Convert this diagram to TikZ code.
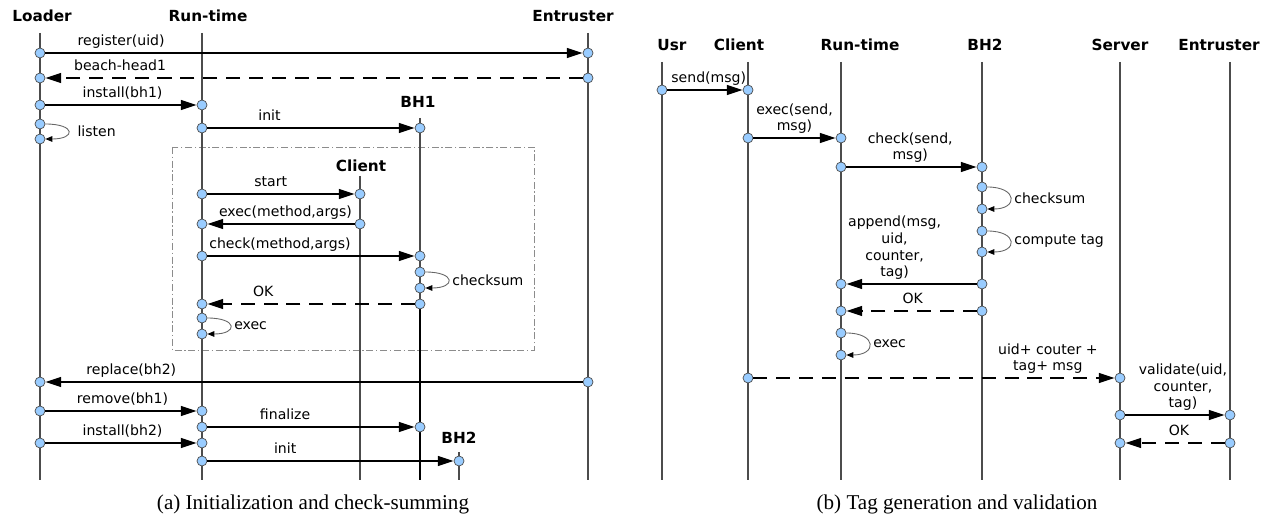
\documentclass[tikz,border=0pt]{standalone}
\usepackage{fontspec}
\setmainfont{Liberation Serif}
\setsansfont{DejaVu Sans}
\usetikzlibrary{arrows.meta}
\definecolor{dotblue}{HTML}{99CCFF}

\begin{document}
\begin{tikzpicture}[x=0.02cm,y=-0.02cm,
   life/.style={draw=black!70,line width=0.6pt},
   act/.style={draw=black,line width=0.9pt},
   head/.style={font=\sffamily\bfseries\fontsize{8.7}{10}\selectfont,inner sep=0pt},
   dot/.style={circle,draw=black!70,line width=0.4pt,fill=dotblue,inner sep=0pt,minimum size=0.2cm},
   msg/.style={line width=1.2pt,-{Triangle[length=9pt,width=5.5pt]}},
   reply/.style={msg,dash pattern=on 8pt off 5pt},
   selfmsg/.style={draw=black!60,line width=0.5pt,-{Triangle[length=4pt,width=3.2pt,black]}},
   lbl/.style={font=\sffamily\fontsize{8}{9.5}\selectfont,inner sep=0.6pt,above,align=center,execute at end node=\strut},
   note/.style={font=\sffamily\fontsize{8}{9.5}\selectfont,inner sep=2pt,right},
   frame/.style={draw=black!45,line width=0.5pt,dash pattern=on 4pt off 1.5pt on 0.8pt off 1.5pt},
   captext/.style={font=\fontsize{12}{14}\selectfont,inner sep=0pt}]

   \useasboundingbox (0,0) rectangle (1270,516);

   % (a) initialization and check-summing
   \path (42,16) node[head] (aLoader) {Loader};
   \path (208,16) node[head] (aRun) {Run-time};
   \path (573,16) node[head] (aEnt) {Entruster};
   \path (418,102) node[head] (aBHone) {BH1};
   \path (361,166) node[head] (aClient) {Client};
   \path (459,438) node[head] (aBHtwo) {BH2};

   \draw[frame] (172,147) rectangle (534,350);

   \draw[life] (40,33) coordinate (aLoaderTop) -- (40,480) coordinate (aLoaderBot);
   \draw[life] (202,33) coordinate (aRunTop) -- (202,480) coordinate (aRunBot);
   \draw[life] (588,33) coordinate (aEntTop) -- (588,480) coordinate (aEntBot);
   \draw[life] (420,118) coordinate (aBHoneTop) -- (420,480) coordinate (aBHoneBot);
   \draw[life] (360,176) coordinate (aClientTop) -- (360,480) coordinate (aClientBot);
   \draw[life] (459,452) coordinate (aBHtwoTop) -- (459,480) coordinate (aBHtwoBot);
   \draw[act] (420,304) coordinate (aBHoneOK) -- (aBHoneBot);

   \path (40,53) node[dot] (a1s) {} (588,53) node[dot] (a1e) {};
   \path (588,78) node[dot] (a2s) {} (40,78) node[dot] (a2e) {};
   \path (40,105) node[dot] (a3s) {} (202,105) node[dot] (a3e) {};
   \path (40,124) node[dot] (a4s) {} (40,139) node[dot] (a4e) {};
   \path (202,128) node[dot] (a5s) {} (420,128) node[dot] (a5e) {};
   \path (202,194) node[dot] (a6s) {} (360,194) node[dot] (a6e) {};
   \path (360,224) node[dot] (a7s) {} (202,224) node[dot] (a7e) {};
   \path (202,256) node[dot] (a8s) {} (420,256) node[dot] (a8e) {};
   \path (420,272) node[dot] (a9s) {} (420,288) node[dot] (a9e) {};
   \path (aBHoneOK) node[dot] (a10s) {} (202,304) node[dot] (a10e) {};
   \path (202,318) node[dot] (a11s) {} (202,334) node[dot] (a11e) {};
   \path (588,382) node[dot] (a12s) {} (40,382) node[dot] (a12e) {};
   \path (40,411) node[dot] (a13s) {} (202,411) node[dot] (a13e) {};
   \path (202,427) node[dot] (a14s) {} (420,427) node[dot] (a14e) {};
   \path (40,443) node[dot] (a15s) {} (202,443) node[dot] (a15e) {};
   \path (202,461) node[dot] (a16s) {} (459,461) node[dot] (a16e) {};

   \draw[msg] (a1s) -- node[lbl,pos=0.141] (l1) {register(uid)} (a1e);
   \draw[reply] (a2s) -- node[lbl,pos=0.861] (l2) {beach-head1} (a2e);
   \draw[msg] (a3s) -- node[lbl,pos=0.51] (l3) {install(bh1)} (a3e);
   \draw[selfmsg] (a4s) .. controls +(36,0) and +(36,0) .. node[note,pos=0.5,xshift=3pt] (l4) {listen} (a4e);
   \draw[msg] (a5s) -- node[lbl,pos=0.30] (l5) {init} (a5e);
   \draw[msg] (a6s) -- node[lbl,pos=0.43] (l6) {start} (a6e);
   \draw[msg] (a7s) -- node[lbl,pos=0.47] (l7) {exec(method,args)} (a7e);
   \draw[msg] (a8s) -- node[lbl,pos=0.35] (l8) {check(method,args)} (a8e);
   \draw[selfmsg] (a9s) .. controls +(36,0) and +(36,0) .. node[note,pos=0.5] (l9) {checksum} (a9e);
   \draw[reply] (a10s) -- node[lbl,pos=0.73] (l10) {OK} (a10e);
   \draw[selfmsg] (a11s) .. controls +(36,0) and +(36,0) .. node[note,pos=0.5] (l11) {exec} (a11e);
   \draw[msg] (a12s) -- node[lbl,pos=0.84] (l12) {replace(bh2)} (a12e);
   \draw[msg] (a13s) -- node[lbl,pos=0.51] (l13) {remove(bh1)} (a13e);
   \draw[msg] (a14s) -- node[lbl,pos=0.375] (l14) {finalize} (a14e);
   \draw[msg] (a15s) -- node[lbl,pos=0.51] (l15) {install(bh2)} (a15e);
   \draw[msg] (a16s) -- node[lbl,pos=0.316] (l16) {init} (a16e);

   \path (313,504) node[captext] (capA) {(a) Initialization and check-summing};

   % (b) tag generation and validation
   \path (672,45) node[head] (bUsr) {Usr};
   \path (739,45) node[head] (bClient) {Client};
   \path (860,45) node[head] (bRun) {Run-time};
   \path (985,45) node[head] (bBHtwo) {BH2};
   \path (1120,45) node[head] (bServer) {Server};
   \path (1219,45) node[head] (bEnt) {Entruster};

   \draw[life] (662,62) coordinate (bUsrTop) -- (662,480) coordinate (bUsrBot);
   \draw[life] (748,62) coordinate (bClientTop) -- (748,480) coordinate (bClientBot);
   \draw[life] (841,62) coordinate (bRunTop) -- (841,480) coordinate (bRunBot);
   \draw[life] (982,62) coordinate (bBHtwoTop) -- (982,480) coordinate (bBHtwoBot);
   \draw[life] (1120,62) coordinate (bServerTop) -- (1120,480) coordinate (bServerBot);
   \draw[life] (1230,62) coordinate (bEntTop) -- (1230,480) coordinate (bEntBot);

   \path (662,90) node[dot] (b1s) {} (748,90) node[dot] (b1e) {};
   \path (748,138) node[dot] (b2s) {} (841,138) node[dot] (b2e) {};
   \path (841,167) node[dot] (b3s) {} (982,167) node[dot] (b3e) {};
   \path (982,187) node[dot] (b4s) {} (982,209) node[dot] (b4e) {};
   \path (982,231) node[dot] (b5s) {} (982,252) node[dot] (b5e) {};
   \path (982,284) node[dot] (b6s) {} (841,284) node[dot] (b6e) {};
   \path (982,311) node[dot] (b7s) {} (841,311) node[dot] (b7e) {};
   \path (841,333) node[dot] (b8s) {} (841,355) node[dot] (b8e) {};
   \path (748,378) node[dot] (b9s) {} (1120,378) node[dot] (b9e) {};
   \path (1120,415) node[dot] (b10s) {} (1230,415) node[dot] (b10e) {};
   \path (1230,443) node[dot] (b11s) {} (1120,443) node[dot] (b11e) {};

   \draw[msg] (b1s) -- node[lbl,pos=0.55] (m1) {send(msg)} (b1e);
   \draw[msg] (b2s) -- node[lbl,pos=0.5] (m2) {exec(send,\\ msg)} (b2e);
   \draw[msg] (b3s) -- node[lbl,pos=0.49] (m3) {check(send,\\ msg)} (b3e);
   \draw[selfmsg] (b4s) .. controls +(36,0) and +(36,0) .. node[note,pos=0.5] (m4) {checksum} (b4e);
   \draw[selfmsg] (b5s) .. controls +(36,0) and +(36,0) .. node[note,pos=0.5] (m5) {compute tag} (b5e);
   \draw[msg] (b6s) -- node[lbl,pos=0.63] (m6) {append(msg,\\ uid,\\ counter,\\ tag)} (b6e);
   \draw[reply] (b7s) -- node[lbl,pos=0.49] (m7) {OK} (b7e);
   \draw[selfmsg] (b8s) .. controls +(36,0) and +(36,0) .. node[note,pos=0.5] (m8) {exec} (b8e);
   \draw[reply] (b9s) -- node[lbl,pos=0.815] (m9) {uid+ couter +\\ tag+ msg} (b9e);
   \draw[msg] (b10s) -- node[lbl,pos=0.58] (m10) {validate(uid,\\ counter,\\ tag)} (b10e);
   \draw[reply] (b11s) -- node[lbl,pos=0.46] (m11) {OK} (b11e);

   \path (957,504) node[captext] (capB) {(b) Tag generation and validation};
\end{tikzpicture}
\end{document}
